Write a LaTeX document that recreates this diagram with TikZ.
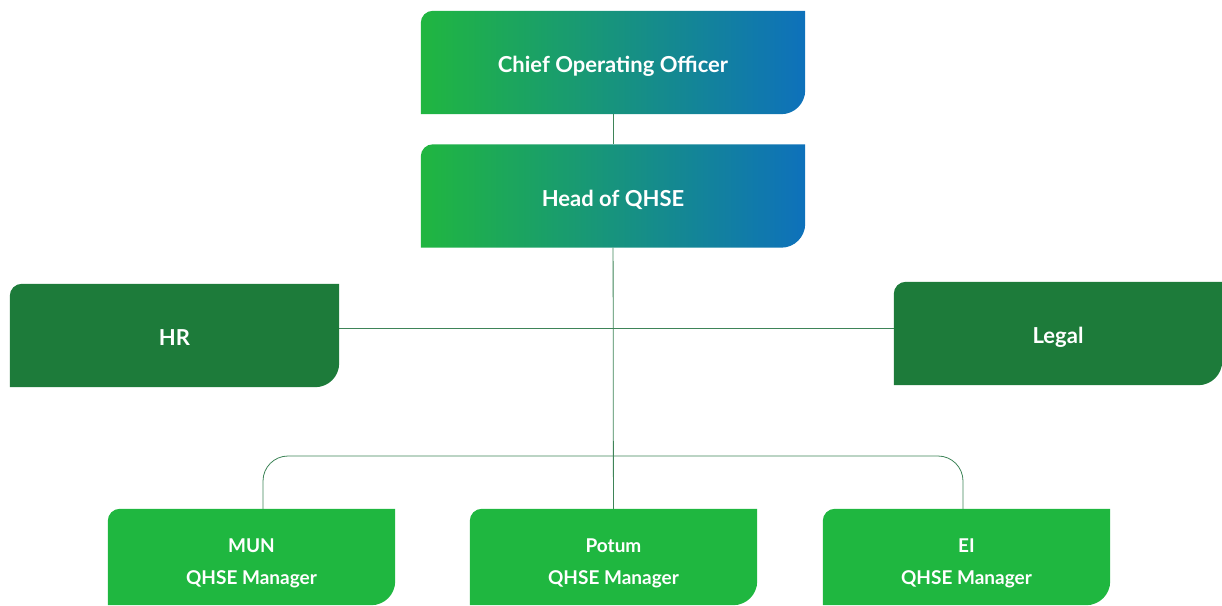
\documentclass[tikz,border=0pt]{standalone}
\usepackage{fontspec}
\setmainfont{Lato}
\usetikzlibrary{backgrounds}

\definecolor{gradleft}{RGB}{32,182,64}
\definecolor{gradright}{RGB}{14,113,187}
\definecolor{deepgreen}{RGB}{29,123,58}
\definecolor{leafgreen}{RGB}{31,183,64}
\definecolor{wire}{RGB}{62,132,88}

\newcommand\sitestrut{\rule{0pt}{26pt}}

\tikzset{
  card/.style={minimum height=103pt, inner sep=0pt, text=white, align=center},
  unit/.style={card, text height=20.4pt, text depth=0pt,
    font=\bfseries\fontsize{22}{26}\selectfont},
  site/.style={card, minimum width=287pt, minimum height=96pt,
    font=\bfseries\fontsize{19}{23}\selectfont},
  link/.style={draw=wire, line width=0.8pt},
  leaf/.style={insert path={(#1.south west) -- ([yshift=-12pt]#1.north west)
    arc[start angle=180, end angle=90, radius=12pt] -- (#1.north east)
    -- ([yshift=24pt]#1.south east) arc[start angle=0, end angle=-90, radius=24pt] -- cycle}},
}

\begin{document}
\begin{tikzpicture}[x=1pt, y=-1pt]
  \useasboundingbox (0,0) rectangle (1222,605);

  \node[unit, minimum width=384pt] (coo) at (613,62.5) {Chief Operating Officer};
  \node[unit, minimum width=384pt] (qhse) at (613,196) {Head of QHSE};
  \node[unit, minimum width=329pt] (hr) at (174.5,335.5) {HR};
  \node[unit, minimum width=328pt] (legal) at (1058,333.5) {Legal};
  \node[site] (mun) at (251.5,557) {\sitestrut MUN\\[9pt]QHSE Manager};
  \node[site] (potum) at (613.5,557) {\sitestrut Potum\\[9pt]QHSE Manager};
  \node[site] (ei) at (966.5,557) {\sitestrut EI\\[9pt]QHSE Manager};

  \coordinate (hub) at (613,328);
  \coordinate (bus) at (613,456);

  \begin{scope}[on background layer]
    \shade[left color=gradleft, right color=gradright, leaf=coo];
    \shade[left color=gradleft, right color=gradright, leaf=qhse];
    \fill[deepgreen, leaf=hr];
    \fill[deepgreen, leaf=legal];
    \fill[leafgreen, leaf=mun];
    \fill[leafgreen, leaf=potum];
    \fill[leafgreen, leaf=ei];

    % reporting lines
    \draw[link] (coo) -- (qhse);
    \draw[link] (qhse) -- (potum);
    \draw[link] (hub -| hr.east) -- (hub -| legal.west);
    \draw[link, rounded corners=25pt] ([xshift=11.5pt]mun.north) |- (bus) -| ([xshift=-3.5pt]ei.north);
  \end{scope}
\end{tikzpicture}
\end{document}
